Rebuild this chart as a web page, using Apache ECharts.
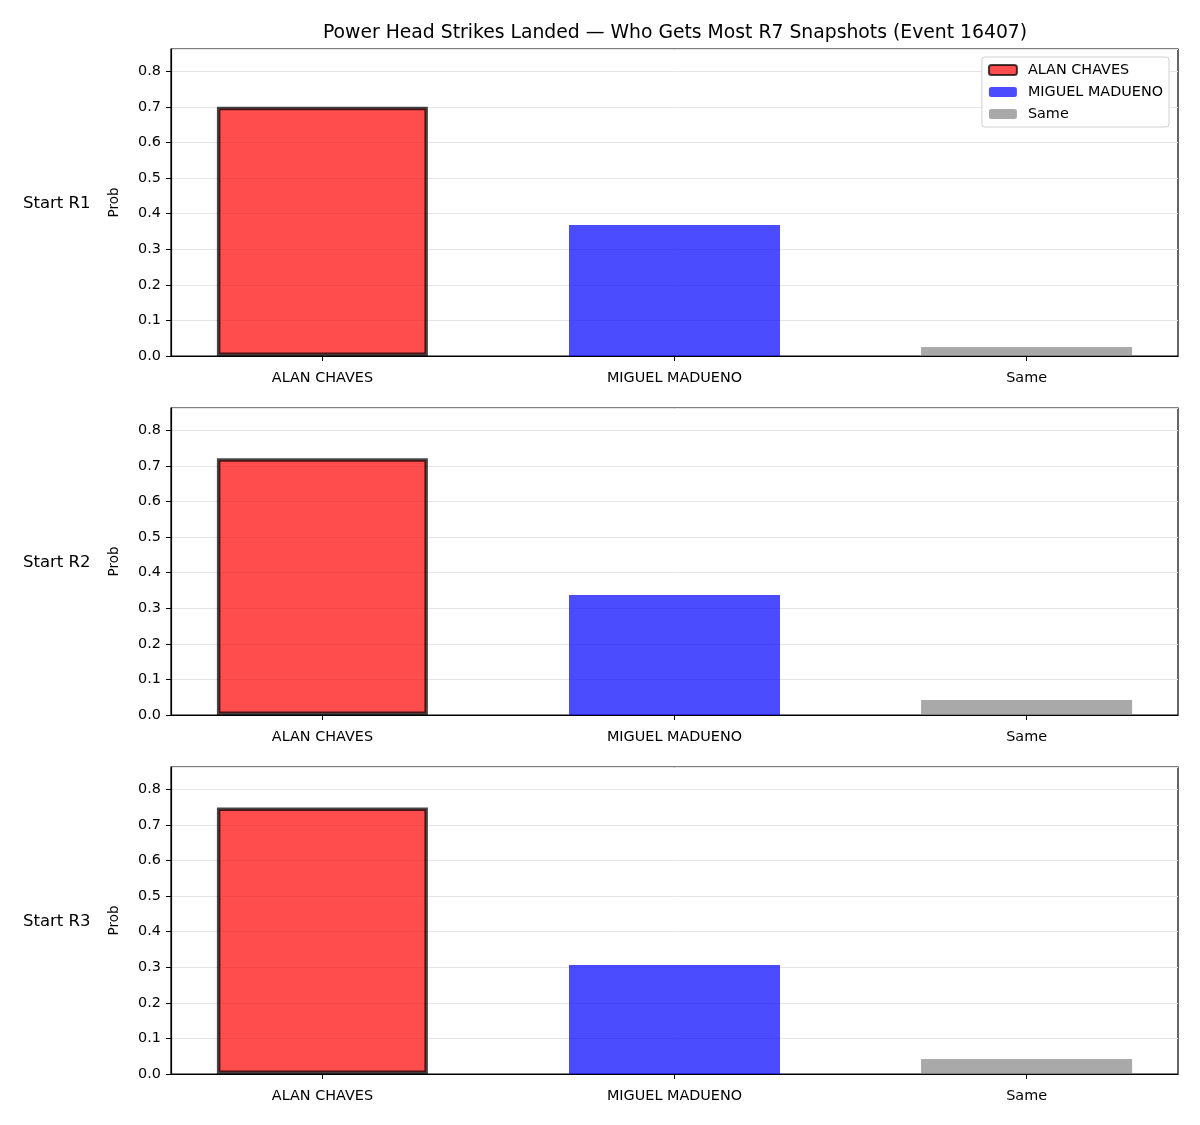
<!DOCTYPE html>
<html>
<head>
<meta charset="utf-8">
<script src="https://cdn.jsdelivr.net/npm/echarts@6/dist/echarts.min.js"></script>
<style>
  html, body { margin: 0; padding: 0; background: #fff; }
  #chart { width: 1200px; height: 1125px; }
</style>
</head>
<body>
<div id="chart"></div>
<script>
// data
var categories = ['ALAN CHAVES', 'MIGUEL MADUENO', 'Same'];
var rowLabels = ['Start R1', 'Start R2', 'Start R3'];
var alanProb = [0.700, 0.721, 0.749];
var miguelProb = [0.368, 0.337, 0.306];
var sameProb = [0.025, 0.042, 0.042];
var yMax = 0.8625;
var catPos = [0, 1, 2];

var FONT = 'DejaVu Sans';
var gridTops = [49, 408, 767];
var gridH = 307;
var BAR_W = 211;

var grids = [], xAxes = [], yAxes = [], series = [], graphics = [];

gridTops.forEach(function (top, i) {
    grids.push({
        left: 171, top: top, width: 1007, height: gridH,
        show: true, borderColor: '#000', borderWidth: 1.2, backgroundColor: 'transparent'
    });
    // matplotlib-like x range: bars of width 0.6 plus 5% margins
    xAxes.push({
        type: 'value', gridIndex: i, min: -0.43, max: 2.43,
        splitLine: { show: false },
        axisLine: { onZero: false, lineStyle: { color: '#000', width: 1.2 } },
        axisTick: { show: true, customValues: catPos, length: 5, lineStyle: { color: '#000' } },
        axisLabel: {
            customValues: catPos, color: '#000', fontFamily: FONT, fontSize: 14.4, margin: 15,
            formatter: function (v) { return categories[Math.round(v)]; }
        }
    });
    yAxes.push({
        type: 'value', gridIndex: i, min: 0, max: yMax, interval: 0.1,
        name: 'Prob', nameLocation: 'middle', nameGap: 50, nameRotate: 90,
        nameTextStyle: { color: '#000', fontFamily: FONT, fontSize: 13.5 },
        axisLine: { show: true, onZero: false, lineStyle: { color: '#000', width: 1.2 } },
        axisTick: { show: true, length: 5, lineStyle: { color: '#000' } },
        axisLabel: {
            color: '#000', fontFamily: FONT, fontSize: 14.4, margin: 10, showMaxLabel: false,
            formatter: function (v) { return v.toFixed(1); }
        },
        splitLine: { show: true, lineStyle: { color: '#e6e6e6', width: 1 } }
    });

    var stack = 'p' + i;
    series.push({
        name: 'ALAN CHAVES', type: 'bar', xAxisIndex: i, yAxisIndex: i, stack: stack,
        barWidth: BAR_W,
        itemStyle: { color: 'rgba(255,0,0,0.7)', borderColor: 'rgba(0,0,0,0.72)', borderWidth: 3.5 },
        data: [[catPos[0], alanProb[i]]]
    });
    series.push({
        name: 'MIGUEL MADUENO', type: 'bar', xAxisIndex: i, yAxisIndex: i, stack: stack,
        barWidth: BAR_W,
        itemStyle: { color: 'rgba(0,0,255,0.7)' },
        data: [[catPos[1], miguelProb[i]]]
    });
    series.push({
        name: 'Same', type: 'bar', xAxisIndex: i, yAxisIndex: i, stack: stack,
        barWidth: BAR_W,
        itemStyle: { color: 'rgba(128,128,128,0.68)' },
        data: [[catPos[2], sameProb[i]]]
    });

    graphics.push({
        type: 'text', left: 23, top: top + gridH / 2 - 7,
        style: { text: rowLabels[i], fill: '#000', font: '16.5px "' + FONT + '"' }
    });
});

var option = {
    animation: false,
    backgroundColor: '#fff',
    title: {
        text: 'Power Head Strikes Landed \u2014 Who Gets Most R7 Snapshots (Event 16407)',
        left: 670, top: 19, textAlign: 'center',
        textStyle: { color: '#000', fontFamily: FONT, fontSize: 18.8, fontWeight: 'normal' }
    },
    legend: {
        data: categories, orient: 'vertical', right: 31, top: 57,
        itemWidth: 28, itemHeight: 10, itemGap: 8,
        padding: [6, 6, 6, 6],
        backgroundColor: '#fff', borderColor: '#d0d0d0', borderWidth: 1, borderRadius: 3,
        textStyle: { color: '#000', fontFamily: FONT, fontSize: 14.4, padding: [0, 0, 0, 6] }
    },
    grid: grids,
    xAxis: xAxes,
    yAxis: yAxes,
    series: series,
    graphic: graphics
};

var chart = echarts.init(document.getElementById('chart'), null, { renderer: 'canvas' });
chart.setOption(option);
</script>
</body>
</html>
